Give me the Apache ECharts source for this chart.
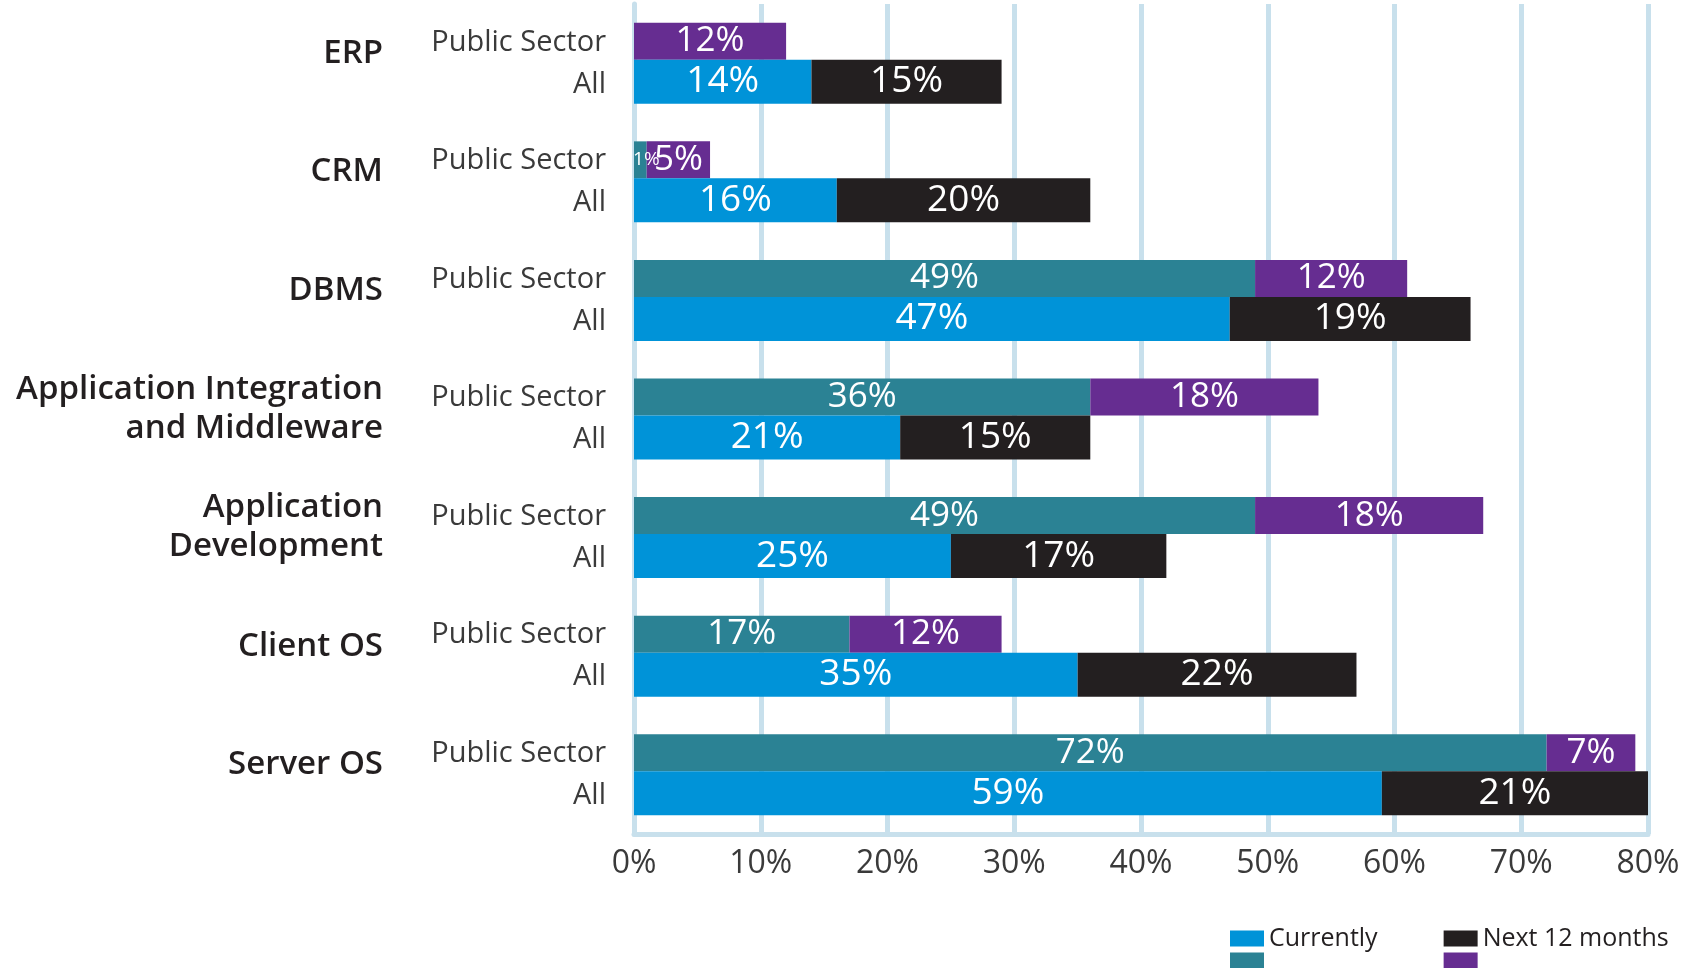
<!DOCTYPE html>
<html>
<head>
<meta charset="utf-8">
<script src="https://cdn.jsdelivr.net/npm/echarts@6/dist/echarts.min.js"></script>
<style>
  html, body { margin: 0; padding: 0; background: #fff; }
  #main { width: 1691px; height: 968px; }
</style>
</head>
<body>
<div id="main"></div>
<script>
// software categories, top to bottom
var groups = ['ERP', 'CRM', 'DBMS', 'Application Integration\nand Middleware', 'Application\nDevelopment', 'Client OS', 'Server OS'];
var rowLabels = ['Public Sector', 'All'];
var xTicks = [0, 10, 20, 30, 40, 50, 60, 70, 80];

// percent of respondents
var publicNow = [0, 1, 49, 36, 49, 17, 72];
var publicNext = [12, 5, 12, 18, 18, 12, 7];
var allNow = [14, 16, 47, 21, 25, 35, 59];
var allNext = [15, 20, 19, 15, 17, 22, 21];

var FONT = 'Open Sans';
var gridBlue = '#c8e0ec';

function pct(p) {
  if (!p.value) return '';
  // tiny segment: small label pushed to the right
  if (p.value < 3) return '{s|' + p.value + '%}';
  return p.value + '%';
}

function barSeries(name, data, stack, color, width, size) {
  return {
    name: name,
    type: 'bar',
    stack: stack,
    data: data,
    barWidth: width,
    barGap: 0,
    itemStyle: { color: color },
    label: {
      show: true,
      position: 'inside',
      formatter: pct,
      color: '#fff',
      fontFamily: FONT,
      fontSize: size,
      rich: { s: { fontSize: 19, color: '#fff', fontFamily: FONT, padding: [0, 0, 0, 12] } }
    }
  };
}

var chart = echarts.init(document.getElementById('main'));

var option = {
  animation: false,
  textStyle: { fontFamily: FONT },
  grid: { left: 634, right: 43, top: 4, bottom: 134 },
  legend: [
    {
      data: ['Currently (All)', 'Next 12 months (All)'],
      left: 1225, top: 921,
      itemWidth: 34, itemHeight: 16, itemGap: 66,
      icon: 'rect',
      formatter: function (n) { return n.replace(' (All)', ''); },
      textStyle: { fontSize: 25, color: '#231f20', fontFamily: FONT }
    },
    {
      data: ['Currently (Public Sector)', 'Next 12 months (Public Sector)'],
      left: 1225, top: 943,
      itemWidth: 34, itemHeight: 16, itemGap: 66,
      icon: 'rect',
      selectedMode: false,
      formatter: function (n) { return n.replace(' (Public Sector)', ''); },
      textStyle: { fontSize: 25, color: 'transparent', fontFamily: FONT }
    }
  ],
  xAxis: {
    type: 'value',
    min: xTicks[0],
    max: xTicks[xTicks.length - 1],
    interval: 10,
    axisLine: { show: true, lineStyle: { color: gridBlue, width: 5 } },
    axisTick: { show: false },
    splitLine: { lineStyle: { color: gridBlue, width: 5 } },
    axisLabel: {
      formatter: '{value}%',
      fontSize: 32,
      color: '#3a3a3a',
      margin: 14,
      fontFamily: FONT
    }
  },
  yAxis: [
    {
      type: 'category',
      data: groups,
      inverse: true,
      axisLine: { show: true, lineStyle: { color: gridBlue, width: 5 } },
      axisTick: { show: false },
      axisLabel: {
        margin: 251,
        align: 'right',
        // names sit a little above the middle of each pair of bars
        formatter: function (v) {
          return v.split('\n').map(function (l) { return '{g|' + l + '}'; }).join('\n');
        },
        rich: {
          g: {
            fontSize: 33,
            fontWeight: 600,
            lineHeight: 39,
            padding: [0, 0, 20, 0],
            color: '#231f20',
            fontFamily: FONT
          }
        }
      }
    },
    {
      type: 'category',
      data: groups,
      inverse: true,
      position: 'left',
      axisLine: { show: false },
      axisTick: { show: false },
      axisLabel: {
        margin: 28,
        fontSize: 29,
        lineHeight: 42,
        color: '#3a3a3a',
        align: 'right',
        fontFamily: FONT,
        formatter: function () { return rowLabels.join('\n'); }
      }
    }
  ],
  series: [
    barSeries('Currently (Public Sector)', publicNow, 'public', '#2b8294', 37, 35),
    barSeries('Next 12 months (Public Sector)', publicNext, 'public', '#662d91', 37, 35),
    barSeries('Currently (All)', allNow, 'all', '#0093d8', 44, 37),
    barSeries('Next 12 months (All)', allNext, 'all', '#231f20', 44, 37)
  ]
};

chart.setOption(option);
</script>
</body>
</html>
